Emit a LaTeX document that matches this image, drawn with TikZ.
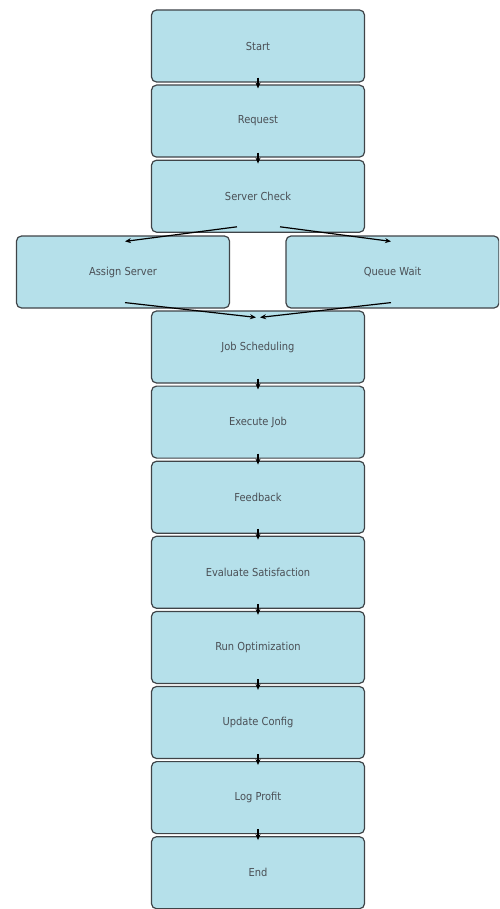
\documentclass[tikz,border=0pt]{standalone}
\usepackage{fontspec}
\setmainfont{DejaVu Sans Condensed}
\usetikzlibrary{positioning,arrows.meta}
\definecolor{boxfill}{HTML}{B5E0EA}
\definecolor{boxline}{HTML}{3F4448}
\definecolor{boxtext}{HTML}{4A4F55}
\tikzset{
	stepbox/.style={draw=boxline, line width=1.2pt, fill=boxfill, rounded corners=5pt,
		minimum width=213pt, minimum height=72pt, inner sep=0pt, text=boxtext, font=\fontsize{11}{13}\selectfont},
	arr/.style={-{Stealth[length=6pt, width=5pt]}, line width=1.2pt, black}
}
\begin{document}
\begin{tikzpicture}[x=1pt, y=1pt, line join=round]
	%Khung hình.
	\useasboundingbox (0,0) rectangle (499,-909);
	\clip (0,0) rectangle (499,-909);
	%Cột giữa.
	\node[stepbox] (start) at (258,-46) {Start};
	\node[stepbox, below=1.9pt of start] (request) {Request};
	\node[stepbox, below=1.9pt of request] (check) {Server Check};
	%Hai nhánh.
	\node[stepbox] (assign) at (123,-272) {Assign Server};
	\node[stepbox] (queue) at (392.5,-272) {Queue Wait};
	\node[stepbox] (sched) at (258,-347) {Job Scheduling};
	\node[stepbox, below=1.9pt of sched] (exec) {Execute Job};
	\node[stepbox, below=1.9pt of exec] (feedback) {Feedback};
	\node[stepbox, below=1.9pt of feedback] (evaluate) {Evaluate Satisfaction};
	\node[stepbox, below=1.9pt of evaluate] (optim) {Run Optimization};
	\node[stepbox, below=1.9pt of optim] (update) {Update Config};
	\node[stepbox, below=1.9pt of update] (logprofit) {Log Profit};
	\node[stepbox, below=1.9pt of logprofit] (end) {End};
	%Mũi tên dọc.
	\foreach \a/\b in {start/request, request/check, sched/exec, exec/feedback, feedback/evaluate, evaluate/optim, optim/update, update/logprofit, logprofit/end}{
			\draw[arr] ([yshift=5pt]\a.south) -- ([yshift=-4pt]\b.north);
		}
	%Mũi tên chéo.
	\draw[arr] ([xshift=-21pt, yshift=6pt]check.south) -- ([xshift=2pt, yshift=-6pt]assign.north);
	\draw[arr] ([xshift=22pt, yshift=6pt]check.south) -- ([xshift=-1.5pt, yshift=-6pt]queue.north);
	\draw[arr] ([xshift=2pt, yshift=6pt]assign.south) -- ([xshift=-2pt, yshift=-7pt]sched.north);
	\draw[arr] ([xshift=-1.5pt, yshift=6pt]queue.south) -- ([xshift=2pt, yshift=-7pt]sched.north);
\end{tikzpicture}
\end{document}
